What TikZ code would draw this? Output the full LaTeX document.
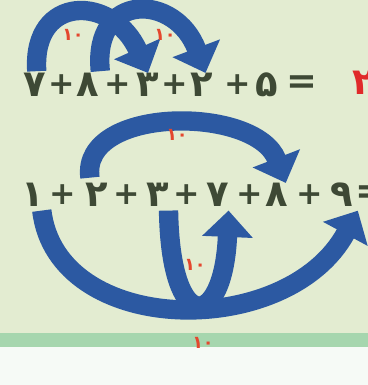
\documentclass[tikz,border=0pt]{standalone}
\usepackage{fontspec}
\usetikzlibrary{arrows.meta, positioning}
\newfontfamily\farsi[Script=Arabic]{DejaVu Sans}
\definecolor{mtInk}{HTML}{3E4935}
\definecolor{mtBlue}{HTML}{2C59A2}
\definecolor{mtRed}{HTML}{E4472E}
\definecolor{mtAns}{HTML}{E02A2A}
\definecolor{mtBg}{HTML}{E3ECD1}
\definecolor{mtStrip}{HTML}{A6D6AE}
\definecolor{mtPaper}{HTML}{F6FAF6}
\tikzset{
  digit/.style={font=\farsi\bfseries\fontsize{21}{25}\selectfont, text=mtInk, inner sep=0pt},
  plus/.style={digit, font=\farsi\bfseries\fontsize{18}{22}\selectfont},
  tens/.style={font=\farsi\bfseries\fontsize{10}{12}\selectfont, text=mtRed, inner sep=0pt},
  hop/.style={-{Triangle[width=28pt, length=15pt]}, line width=11pt, draw=mtBlue},
}

\begin{document}
\begin{tikzpicture}[x=0.02cm, y=-0.02cm]
  \useasboundingbox (0,0) rectangle (368,385);
  \begin{scope}
  \clip (0,0) rectangle (368,385);
  \fill[mtBg] (0,0) rectangle (368,335);
  \fill[mtStrip] (0,333) rectangle (368,347);
  \fill[mtPaper] (0,347) rectangle (368,385);

  % first line
  \node[digit] (a7) at (35,85) {۷};
  \node[digit] (a8) at (88,85) {۸};
  \node[digit] (a3) at (148,85) {۳};
  \node[digit] (a2) at (202,85) {۲};
  \node[digit] (a5) at (267,85) {۵};
  \node[digit] (aeq) at (302,85) {=};
  \node[digit, text=mtAns, anchor=west] (ares) at (352,83) {۲۵};
  \foreach \x [count=\i] in {62,118,175,238}
    \node[plus] (ap\i) at (\x,85) {+};

  % second line
  \node[digit] (b1) at (33,195) {۱};
  \node[digit] (b2) at (97,195) {۲};
  \node[digit] (b3) at (158,195) {۳};
  \node[digit] (b7) at (218,195) {۷};
  \node[digit] (b8) at (277,195) {۸};
  \node[digit] (b9) at (342,195) {۹};
  \node[digit, anchor=west] (beq) at (355,195) {=};
  \foreach \x [count=\i] in {63,127,187,250,310}
    \node[plus] (bp\i) at (\x,195) {+};

  % pairs that make ten
  \draw[hop] ([xshift=1pt,yshift=1pt]a7.north) .. controls +(-5,-78) and +(-35,-78) .. (a3.north);
  \draw[hop] ([xshift=7pt,yshift=1pt]a8.north) .. controls +(-8,-80) and +(-30,-80) .. ([xshift=2pt]a2.north);
  \draw[hop] ([xshift=-4pt,yshift=3pt]b2.north) .. controls +(-10,-72) and +(-30,-78) .. ([xshift=5pt]b8.north);
  \draw[hop] ([xshift=5pt,yshift=-2pt]b1.south) .. controls +(15,127) and +(-70,130) .. ([xshift=9pt,yshift=-2pt]b9.south);
  \draw[hop] ([xshift=6pt,yshift=-2pt]b3.south) .. controls +(2,126) and +(-5,120) .. ([xshift=6pt,yshift=-2pt]b7.south);

  \node[tens] (t1) at (73,35) {۱۰};
  \node[tens] (t2) at (165,35) {۱۰};
  \node[tens] (t3) at (177,135) {۱۰};
  \node[tens] (t4) at (195,265) {۱۰};
  \node[tens] (t5) at (203,343) {۱۰};
  \end{scope}
\end{tikzpicture}
\end{document}
